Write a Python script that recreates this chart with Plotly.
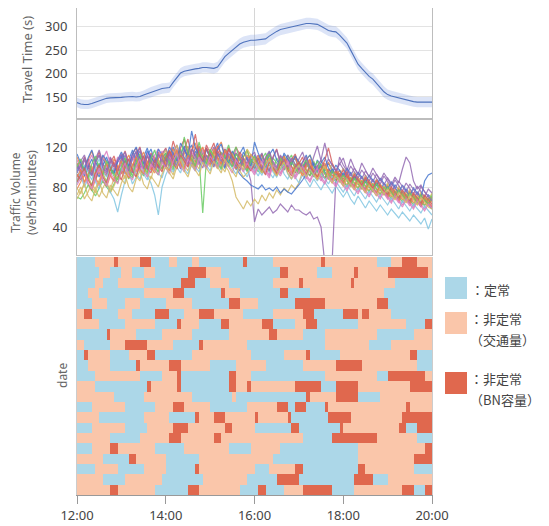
import re
import plotly.graph_objects as go

# ---------------- data ----------------
tick_vals = [12, 14, 16, 18, 20]
tick_text = ["12:00", "14:00", "16:00", "18:00", "20:00"]
step_h = 5 / 60  # 5-minute steps
n_steps = 96
times = [12 + k * step_h for k in range(n_steps + 1)]

tt_mean = [138, 135, 134, 134, 136, 139, 141, 144, 147, 148, 148, 148,
           149, 150, 151, 151, 150, 151, 154, 157, 160, 163, 166, 168,
           169, 170, 181, 192, 201, 205, 207, 209, 210, 211, 213, 213,
           212, 211, 214, 224, 236, 243, 250, 257, 263, 267, 269, 271,
           271, 272, 273, 274, 280, 286, 290, 294, 296, 298, 300, 302,
           304, 306, 307, 307, 306, 305, 301, 296, 292, 290, 289, 282,
           274, 265, 250, 234, 220, 211, 202, 194, 188, 180, 170, 161,
           155, 152, 150, 148, 146, 143, 141, 140, 139, 139, 139, 139,
           139]
tt_spread = [10, 10, 10, 10, 10, 10, 10, 10, 10, 10, 10, 10,
             10, 10, 10, 10, 10, 10, 10, 11, 11, 11, 11, 11,
             11, 11, 11, 11, 11, 11, 11, 11, 11, 11, 11, 11,
             11, 11, 11, 11, 12, 12, 12, 12, 12, 12, 12, 12,
             12, 12, 12, 12, 12, 12, 12, 12, 12, 12, 12, 12,
             12, 12, 12, 12, 12, 12, 12, 12, 12, 12, 12, 12,
             12, 12, 12, 12, 12, 12, 12, 12, 12, 12, 12, 12,
             11, 11, 11, 11, 11, 11, 11, 11, 11, 11, 11, 11,
             11]

volume_lines = [
    "92 88 97 104 95 86 99 108 101 93 97 105 110 102 96 108 115 104 99 111 118 106 101 109 114 103 120 111 98 107 116 122 109 103 113 119 108 115 124 112 104 118 110 101 113 120 107 99 112 104 96 108 115 101 93 106 112 99 104 109 98 105 112 100 94 107 101 96 104 98 90 97 92 86 95 88 83 91 85 79 88 82 76 84 80 74 82 77 70 78 73 68 75 71 66 72 69",
    "78 85 92 83 76 88 95 86 80 91 98 89 96 104 93 100 110 98 92 105 112 101 95 108 102 111 118 106 99 113 121 108 102 116 110 104 115 107 119 125 111 103 114 108 99 110 117 106 104 110 98 106 113 101 95 108 103 97 105 111 100 94 103 108 96 101 93 99 105 95 89 97 90 96 85 92 87 81 89 84 78 86 80 75 82 76 71 79 74 68 76 72 66 73 69 64 70",
    "70 68 74 82 77 71 79 86 80 75 83 90 94 101 88 96 107 99 91 103 110 97 92 105 112 98 106 117 109 101 114 105 97 110 54 108 103 116 109 99 112 122 108 101 96 110 117 104 98 107 113 102 95 109 104 97 106 112 100 94 103 97 91 100 106 95 89 98 93 87 95 90 84 91 86 80 88 83 77 85 79 74 82 76 71 78 73 67 75 70 64 72 68 63 70 66 73",
    "104 96 110 101 93 106 115 102 97 109 100 94 107 116 103 98 112 120 106 101 114 108 99 113 119 108 126 114 103 117 128 110 105 121 112 107 116 124 109 102 118 111 104 120 113 106 98 112 107 99 113 104 96 110 118 103 97 108 101 94 103 110 97 91 104 99 93 101 95 88 96 91 85 93 87 81 90 84 78 87 80 75 83 77 72 79 74 68 76 71 65 73 68 62 69 64 60",
    "98 106 112 100 93 108 117 104 97 110 103 96 109 115 102 96 111 119 105 99 113 107 98 112 118 106 113 122 108 100 115 109 102 117 111 104 112 120 107 101 115 109 103 98 110 104 100 86 45 58 52 56 60 54 57 63 59 55 62 57 57 54 52 55 48 50 40 4 2 6 88 110 102 96 108 99 92 104 97 90 99 93 86 94 88 82 90 84 98 110 104 86 78 82 75 70 66",
    "88 95 83 90 99 87 81 94 102 91 85 97 104 93 99 110 101 95 107 114 103 97 109 116 106 112 101 118 109 103 115 107 99 111 119 105 110 103 117 108 100 113 106 119 111 104 109 101 96 104 110 99 92 106 101 94 103 109 97 91 100 94 88 97 103 92 86 95 90 84 92 87 81 88 83 77 85 80 74 82 76 71 79 73 68 75 70 64 72 67 61 69 65 60 67 63 68",
    "72 80 68 75 84 77 70 79 86 74 81 90 97 88 103 95 90 106 99 92 108 101 94 110 117 104 110 122 112 105 118 108 101 114 107 100 111 104 98 108 102 96 86 70 64 58 66 61 68 63 72 66 74 69 77 72 79 75 82 78 84 96 108 112 104 99 107 101 95 103 97 91 99 93 87 95 89 84 92 86 80 88 83 77 84 79 73 81 76 70 78 73 67 75 71 66 74",
    "84 92 80 88 96 85 78 90 82 75 68 55 72 86 95 83 90 101 93 87 99 106 94 89 102 96 109 100 94 107 113 101 96 110 104 98 107 100 114 105 98 111 104 97 108 101 95 103 97 91 100 106 95 89 98 104 93 88 96 90 84 92 86 80 88 82 77 85 79 74 81 75 70 76 68 63 71 65 59 66 61 56 62 57 52 58 54 49 55 51 46 52 47 43 49 38 48",
    "96 103 91 99 108 97 90 102 110 98 93 105 112 100 107 117 104 98 110 119 106 101 113 108 103 115 108 99 112 121 107 101 116 110 104 118 109 102 114 106 99 111 105 98 93 89 86 82 80 78 82 77 79 76 80 74 78 75 73 77 82 87 93 99 104 97 101 95 90 98 92 87 94 88 83 91 85 80 87 82 77 84 79 74 71 77 72 67 74 69 64 71 66 61 67 63 58",
    "110 101 95 107 116 104 98 111 103 96 108 100 93 105 112 100 95 108 115 103 97 110 104 98 111 117 105 99 113 108 102 116 124 110 104 112 105 118 110 103 116 109 102 114 107 100 112 106 110 102 97 108 113 103 96 107 101 95 104 110 99 93 101 107 96 90 98 104 94 89 97 92 88 82 90 85 79 87 81 76 84 78 73 81 76 70 78 73 67 75 70 64 72 68 62 69 65",
    "86 93 101 89 82 95 104 92 86 98 91 84 98 106 94 89 103 111 99 93 107 100 95 108 114 103 97 110 118 106 100 113 107 125 111 104 118 109 102 115 107 100 112 120 108 103 96 108 102 95 108 114 102 96 109 103 97 106 112 101 95 103 97 91 99 106 94 88 96 91 85 93 87 80 89 83 78 86 81 75 83 77 72 80 74 68 76 71 65 73 68 62 70 66 61 68 71",
    "93 87 100 108 95 89 102 96 91 104 111 99 94 107 100 113 119 105 98 111 104 99 115 108 102 116 110 103 119 128 112 106 120 113 107 122 114 108 121 112 105 118 110 103 115 109 101 97 106 112 100 94 107 102 95 111 104 98 107 113 102 96 105 99 93 101 95 89 98 92 86 94 88 95 84 90 85 79 87 82 76 84 79 73 80 75 69 77 72 66 74 69 64 71 67 62 63",
    "101 94 107 99 92 105 112 100 95 108 102 97 104 112 99 94 108 116 103 97 110 105 99 112 106 100 114 108 101 117 110 103 112 119 106 100 113 106 100 111 118 107 101 114 109 102 110 104 99 108 114 102 96 109 117 105 99 112 106 100 108 115 103 97 110 121 106 100 108 102 96 104 98 92 101 95 89 97 91 86 94 88 83 91 85 80 87 82 76 84 79 73 81 76 70 78 74",
    "107 99 93 104 112 101 95 108 116 103 97 110 100 93 106 113 101 96 109 104 98 112 118 106 99 111 105 98 113 107 101 115 109 102 117 111 104 112 107 100 114 108 102 109 103 97 106 100 94 102 108 97 91 104 99 93 101 107 96 90 97 103 92 87 95 101 90 85 93 88 82 90 84 78 86 81 75 83 78 72 80 75 70 77 71 66 73 68 62 70 65 60 68 63 58 65 61",
    "79 73 85 92 80 74 87 95 83 77 89 96 88 83 96 103 91 86 99 94 88 101 108 96 105 99 92 107 114 102 96 110 104 98 112 106 100 113 107 101 95 108 115 103 97 90 94 99 104 110 99 93 106 101 95 104 110 99 93 101 106 100 94 102 97 91 99 94 88 96 90 85 92 86 80 88 83 78 86 80 75 83 77 72 79 74 68 76 71 66 73 68 63 70 66 61 67",
    "96 89 102 94 87 100 108 95 90 103 97 92 99 93 106 100 94 88 97 91 84 72 52 80 92 100 95 104 110 98 93 106 101 95 108 102 96 109 103 97 111 105 99 93 102 96 90 99 104 97 92 100 106 95 90 98 103 93 88 96 101 95 90 97 92 86 94 89 83 91 86 80 75 82 77 71 79 73 68 76 70 65 72 67 62 69 64 58 66 61 56 63 59 54 61 57 52",
    "113 104 97 109 117 105 99 112 106 100 94 107 115 107 101 113 120 109 103 116 110 104 118 112 107 120 113 106 124 117 110 136 119 112 105 118 111 105 117 123 110 104 116 109 102 115 108 101 125 114 106 100 112 118 107 101 114 108 102 111 105 99 107 112 101 96 104 110 99 94 102 97 91 99 93 87 95 90 84 92 86 81 89 83 78 85 80 74 82 77 71 79 74 69 86 92 94",
    "90 97 85 93 101 89 83 96 104 92 86 99 106 95 89 102 110 98 93 105 99 94 108 114 102 96 110 117 104 98 112 106 100 114 120 108 102 115 109 103 117 110 104 98 111 105 99 113 107 101 95 103 109 98 92 105 111 100 94 103 97 91 100 105 94 88 96 102 92 87 95 90 84 91 85 79 87 82 76 84 79 74 81 75 70 77 72 66 74 69 63 71 66 61 69 64 60",
    "100 108 95 89 103 111 98 92 106 100 94 87 101 109 97 91 105 113 100 95 108 117 104 98 111 105 99 113 106 130 114 108 101 116 110 103 117 110 104 98 112 106 100 113 107 101 96 105 111 100 94 107 113 102 96 109 103 97 105 99 93 101 107 96 90 98 103 93 88 96 91 86 92 86 81 89 84 78 86 81 75 83 78 73 80 75 69 77 72 67 74 70 64 72 67 63 69",
    "85 92 99 87 81 94 102 90 84 97 105 93 87 100 108 96 90 103 111 99 94 107 101 95 109 116 104 98 112 106 100 115 133 112 106 119 109 103 116 110 104 119 111 105 99 108 102 96 103 109 98 92 105 100 94 102 108 97 91 100 105 99 93 101 96 90 98 107 119 104 96 90 97 91 85 93 88 82 90 85 79 87 82 76 73 80 75 69 77 72 66 74 69 64 72 67 63",
    "94 101 109 97 91 104 112 99 93 106 100 107 113 102 96 109 116 104 98 111 105 99 112 106 100 113 107 101 116 109 103 118 112 105 99 112 106 100 113 107 101 114 108 102 96 109 103 110 115 104 98 110 116 105 99 112 106 100 109 103 97 105 110 99 93 101 107 124 108 102 96 103 109 97 91 99 93 88 96 90 85 93 87 82 89 83 78 86 80 75 83 77 72 80 75 70 66",
    "82 89 96 84 78 91 99 87 81 94 88 83 96 104 92 87 100 108 95 90 103 97 92 105 99 93 106 113 101 95 108 102 96 110 104 98 111 105 99 112 106 100 94 107 101 95 104 98 92 100 106 95 89 102 97 91 99 105 94 88 95 101 90 85 93 99 88 83 91 86 80 88 82 76 84 79 73 81 76 70 78 73 68 75 69 64 71 66 60 68 63 58 66 61 56 63 59",
    "68 75 83 71 66 79 86 74 69 82 76 71 84 92 80 75 88 96 83 78 91 85 80 93 100 94 88 101 108 96 90 103 97 91 105 99 93 106 100 94 108 102 96 90 103 97 118 112 106 100 94 102 108 97 91 99 105 94 88 97 102 96 90 98 93 87 95 101 89 84 92 87 81 88 83 77 85 80 74 82 76 71 79 73 78 72 67 75 70 64 72 67 62 70 65 60 58",
]
line_colors = ["#4878d0", "#ee854a", "#6acc64", "#d65f5f",
               "#956cb4", "#dc7ec0", "#d5bb67", "#82c6e2"]

# state per date (rows top->bottom), run-length: b=steady, o=non-steady(traffic), r=non-steady(BN capacity)
state_rows = [
    "b5 o5 r1 o6 r3 b5 o2 b4 o2 b12 r1 b7 o13 r1 o14 b4 o3 r4 o4",
    "b6 o3 b3 o3 b3 o3 b9 r5 o4 b16 r2 o8 b4 o6 r1 o8 r11 o1",
    "b5 o2 b4 o7 b10 r4 b4 o5 b12 o7 r1 o13 r1 o11 b10",
    "b3 o3 b12 o8 r3 b10 r1 o4 b11 r2 b6 o20 b13",
    "b4 o4 b5 o4 b7 o7 b10 r3 o5 b10 r8 o14 r3 b12",
    "o2 r2 b7 o4 b6 r4 b4 o4 r4 o8 b8 o8 r3 b8 r4 o1 r2 o6 b11",
    "o6 b7 o8 b6 r1 o5 b6 r2 o9 r3 b6 o3 r3 b11 o13 b5 r2",
    "b8 r1 o7 b7 o8 b10 o11 r2 o7 b6 o14 b10 o5",
    "o2 b7 o4 r6 o7 b7 r1 o12 b21 o12 b6 o11",
    "b2 r1 o6 b5 o5 r2 b10 o16 b9 o6 r1 b8 o19 r2 b4",
    "b3 o6 b7 r1 o8 r3 o8 b7 o8 b10 o9 r7 o15 b4",
    "b5 o12 b6 o4 r1 b13 r2 o4 b20 o14 b3 r10 o2",
    "o5 b14 r1 o7 r1 b13 r2 o3 r1 o12 r7 b4 r6 o14 r6",
    "o10 b8 o13 b11 o1 b19 r1 o7 r6 b6 o14",
    "b4 o9 b8 o5 r3 o7 b10 o8 r3 b2 r3 b5 r1 o21 r1 o6",
    "o6 b12 o7 b7 r1 o4 r3 o8 r1 o8 r1 b10 r6 o14 r8",
    "b4 o9 b6 o7 r4 o10 r2 o6 b10 r2 b11 r1 o15 r2 b3 r4",
    "o9 b8 o8 r3 o9 r2 o22 b8 r12 o11 b4",
    "b4 o5 r2 o10 b8 o12 b6 o8 b21 o18 r2",
    "o7 b7 r2 o8 b9 o20 b23 o15 r5",
    "b5 o6 b7 o6 b8 r1 o15 b4 o7 r2 b15 r2 o13 b5",
    "o7 b6 o10 b11 o12 b8 r6 b15 r5 b4 o12",
    "o9 r2 o10 b9 r3 o11 b5 r2 b5 o5 r8 b6 o13 r3 b3 r2",
]
state_codes = {"b": 0, "o": 1, "r": 2}
state_colors = ["#acd7e8", "#fac6aa", "#e0684e"]
legend_lines = [["：定常"], ["：非定常", "（交通量）"], ["：非定常", "（BN容量）"]]

# ---------------- build ----------------
def decode(row):
    out = []
    for code, n in re.findall(r"([bor])(\d+)", row):
        out += [state_codes[code]] * int(n)
    return out[:n_steps]

z = [decode(r) for r in state_rows]

fig = go.Figure()

upper = [m + s for m, s in zip(tt_mean, tt_spread)]
lower = [m - s for m, s in zip(tt_mean, tt_spread)]
fig.add_trace(go.Scatter(x=times, y=upper, mode="lines", line=dict(width=0),
                         hoverinfo="skip", showlegend=False, xaxis="x", yaxis="y"))
fig.add_trace(go.Scatter(x=times, y=lower, mode="lines", line=dict(width=0),
                         fill="tonexty", fillcolor="rgba(120,150,225,0.26)",
                         hoverinfo="skip", showlegend=False, xaxis="x", yaxis="y"))
fig.add_trace(go.Scatter(x=times, y=tt_mean, mode="lines",
                         line=dict(color="#4f73bd", width=1.1),
                         showlegend=False, xaxis="x", yaxis="y"))

for i, s in enumerate(volume_lines):
    vals = [float(v) for v in s.split()]
    fig.add_trace(go.Scatter(x=times[:len(vals)], y=vals, mode="lines",
                             line=dict(color=line_colors[i % len(line_colors)], width=1.2),
                             opacity=0.85, showlegend=False, xaxis="x2", yaxis="y2"))

cs = [[0, state_colors[0]], [1 / 3, state_colors[0]],
      [1 / 3, state_colors[1]], [2 / 3, state_colors[1]],
      [2 / 3, state_colors[2]], [1, state_colors[2]]]
fig.add_trace(go.Heatmap(z=z, x=times, y=list(range(len(z))), zmin=-0.5, zmax=2.5,
                         colorscale=cs, showscale=False, xaxis="x3", yaxis="y3"))

# ---------------- layout ----------------
# the page body adds an 8px offset; reference plot area spans x 77..432, y 8..495
OFF = 8
W, H = 549 - OFF, 526 - OFF
L, R, T, B = 77 - OFF, 117, 0, 31
PLOT_W = W - L - R
PLOT_H = H - T - B

def py(p):  # reference pixel y -> paper y
    return (495 - p) / PLOT_H

def px_x(p):  # reference pixel x -> paper x
    return (p - 77) / PLOT_W

frame = "#bdbdbd"
grid = "#e3e3e3"
tickfont = dict(family="Noto Sans, Liberation Sans, sans-serif", size=13, color="#444444")

common_x = dict(range=[12, 20], tickvals=[12, 16, 20], showticklabels=False,
                showgrid=True, gridcolor="#d6d6d6", gridwidth=1, zeroline=False,
                showline=True, linecolor=frame, mirror=True, ticks="")

fig.update_layout(
    width=W, height=H,
    margin=dict(l=L, r=R, t=T, b=B, autoexpand=False),
    paper_bgcolor="white", plot_bgcolor="white",
    xaxis=dict(domain=[0, 1], anchor="y", **common_x),
    xaxis2=dict(domain=[0, 1], anchor="y2", **common_x),
    xaxis3=dict(domain=[0, 1], anchor="y3", range=[12, 20], tickvals=tick_vals,
                ticktext=tick_text, ticks="outside", ticklen=8, tickcolor="#999999",
                showline=True, linecolor="#999999", mirror=False, showgrid=False,
                zeroline=False, tickfont=tickfont),
    yaxis=dict(domain=[py(118), py(8)], anchor="x", range=[105, 340],
               tickvals=[150, 200, 250, 300], showgrid=True, gridcolor=grid,
               zeroline=False, showline=True, linecolor=frame, mirror=True,
               tickfont=tickfont, ticks="", ticklabelstandoff=6),
    yaxis2=dict(domain=[py(255), py(120)], anchor="x2", range=[12, 147],
                tickvals=[40, 80, 120], showgrid=True, gridcolor=grid,
                zeroline=False, showline=True, linecolor=frame, mirror=True,
                tickfont=tickfont, ticks="", ticklabelstandoff=6),
    yaxis3=dict(domain=[0, py(257)], anchor="x3", range=[len(z) - 0.5, -0.5],
                showticklabels=False, showgrid=False, zeroline=False,
                showline=True, linecolor="#cccccc", mirror=True, ticks=""),
)

title_font = dict(family="Noto Sans, Liberation Sans, sans-serif", size=12, color="#666666")

fig.add_annotation(x=px_x(27), y=py(60), xref="paper", yref="paper", text="Travel Time (s)",
                   textangle=-90, showarrow=False, font=dict(title_font, size=13),
                   xanchor="center", yanchor="middle")
fig.add_annotation(x=px_x(23), y=py(193), xref="paper", yref="paper",
                   text="Traffic Volume<br>(veh/5minutes)", textangle=-90, showarrow=False,
                   font=title_font, xanchor="center", yanchor="middle")
fig.add_annotation(x=px_x(62), y=py(376), xref="paper", yref="paper", text="date",
                   textangle=-90, showarrow=False, font=title_font,
                   xanchor="center", yanchor="middle")

# legend (squares + labels)
sq = [(277, 299), (312, 334), (372, 394)]
txt_split = [289, 329, 389]  # line boundary (reference pixels)
jp_font = dict(family="Noto Sans CJK JP, sans-serif", size=13, color="#444444")
for (y0, y1), ty, col, labs in zip(sq, txt_split, state_colors, legend_lines):
    fig.add_shape(type="rect", xref="paper", yref="paper",
                  x0=px_x(445), x1=px_x(467), y0=py(y1), y1=py(y0),
                  fillcolor=col, line=dict(width=0))
    if len(labs) == 1:
        fig.add_annotation(x=px_x(469), y=py(ty), xref="paper", yref="paper", text=labs[0],
                           xanchor="left", yanchor="middle", showarrow=False, font=jp_font)
    else:
        fig.add_annotation(x=px_x(469), y=py(ty), xref="paper", yref="paper", text=labs[0],
                           xanchor="left", yanchor="bottom", showarrow=False, font=jp_font,
                           borderpad=0)
        fig.add_annotation(x=px_x(469), y=py(ty), xref="paper", yref="paper", text=labs[1],
                           xanchor="left", yanchor="top", showarrow=False, font=jp_font,
                           borderpad=0)

fig.write_html("out.html")
